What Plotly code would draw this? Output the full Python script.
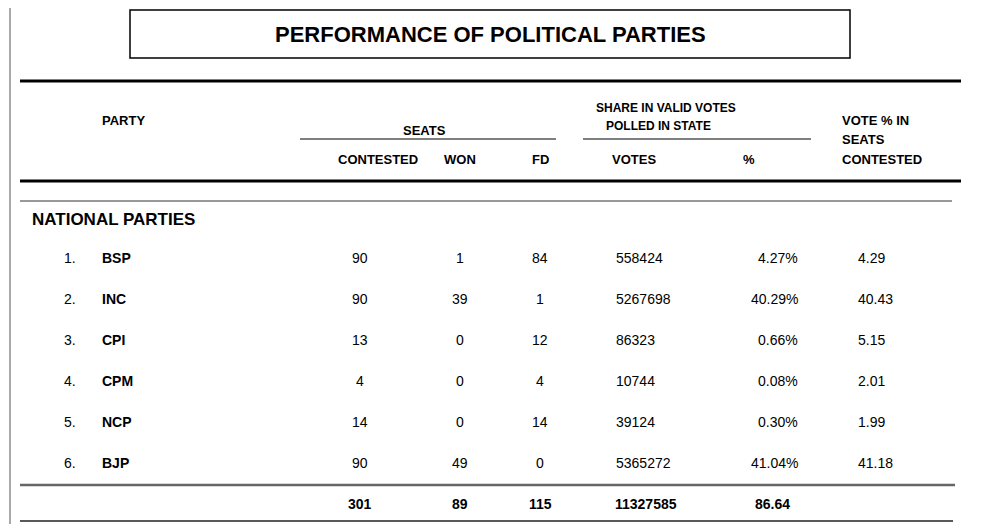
import plotly.graph_objects as go

nums = ["1.", "2.", "3.", "4.", "5.", "6."]
parties = ["BSP", "INC", "CPI", "CPM", "NCP", "BJP"]
contested = [90, 90, 13, 4, 14, 90]
won = [1, 39, 0, 0, 0, 49]
fd = [84, 1, 12, 4, 14, 0]
votes = [558424, 5267698, 86323, 10744, 39124, 5365272]
pct = ["4.27%", "40.29%", "0.66%", "0.08%", "0.30%", "41.04%"]
vote_pct_contested = ["4.29", "40.43", "5.15", "2.01", "1.99", "41.18"]
totals = ["301", "89", "115", "11327585", "86.64"]

F = "Liberation Sans, Arial"
D = 8  # page body margin offset
fig = go.Figure()
ann = []
def t(x, y, s, size=13, bold=False, xa="center"):
    ann.append(dict(x=x - D, y=y - D, text=f"<b>{s}</b>" if bold else s, showarrow=False,
                    xanchor=xa, yanchor="middle", font=dict(family=F, size=size, color="black")))

t(490, 34, "PERFORMANCE OF POLITICAL PARTIES", 22, True)
t(100, 120, "PARTY", 13, True, "left")
t(424, 130, "SEATS", 13, True)
t(378, 159, "CONTESTED", 13, True)
t(460, 159, "WON", 13, True)
t(540, 159, "FD", 13, True)
t(666, 108, "SHARE IN VALID VOTES", 12, True)
t(658, 126, "POLLED IN STATE", 12, True)
t(610, 159, "VOTES", 13, True, "left")
t(749, 159, "%", 13, True)
t(840, 120, "VOTE % IN", 13, True, "left")
t(840, 139, "SEATS", 13, True, "left")
t(840, 159, "CONTESTED", 13, True, "left")
t(30, 219, "NATIONAL PARTIES", 17, True, "left")

for i in range(len(parties)):
    y = 258 + i * 41
    t(62, y, nums[i], 14, False, "left")
    t(100, y, parties[i], 14, True, "left")
    t(360, y, str(contested[i]), 14)
    t(460, y, str(won[i]), 14)
    t(540, y, str(fd[i]), 14)
    t(614, y, str(votes[i]), 14, False, "left")
    t(800, y, pct[i], 14, False, "right")
    t(856, y, vote_pct_contested[i], 14, False, "left")

for x, s in zip([360, 460, 540, 646, 772], totals):
    t(x, 504, s, 14, True)

def ln(x0, x1, y0, y1, color, w):
    return dict(type="line", x0=x0 - D, x1=x1 - D, y0=y0 - D, y1=y1 - D, line=dict(color=color, width=w))

shapes = [
    dict(type="rect", x0=130 - D, x1=850 - D, y0=10 - D, y1=58 - D, line=dict(color="black", width=1.5)),
    dict(type="line", x0=2 - D + 8, x1=2 - D + 8, y0=0, y1=524, line=dict(color="#555", width=1)),
    ln(20, 961, 81, 81, "black", 3),
    ln(300, 556, 139, 139, "black", 1.2),
    ln(583, 811, 139, 139, "black", 1.2),
    ln(20, 961, 181, 181, "black", 3),
    ln(20, 952, 201, 201, "#333", 1),
    ln(20, 955, 485, 485, "#666", 2.5),
    ln(20, 953, 521, 521, "#222", 1.5),
]

fig.update_layout(width=984, height=524, margin=dict(l=0, r=0, t=0, b=0),
                  paper_bgcolor="white", plot_bgcolor="white",
                  xaxis=dict(range=[0, 984], visible=False, fixedrange=True),
                  yaxis=dict(range=[524, 0], visible=False, fixedrange=True),
                  annotations=ann, shapes=shapes, showlegend=False)
fig.write_html("out.html")
